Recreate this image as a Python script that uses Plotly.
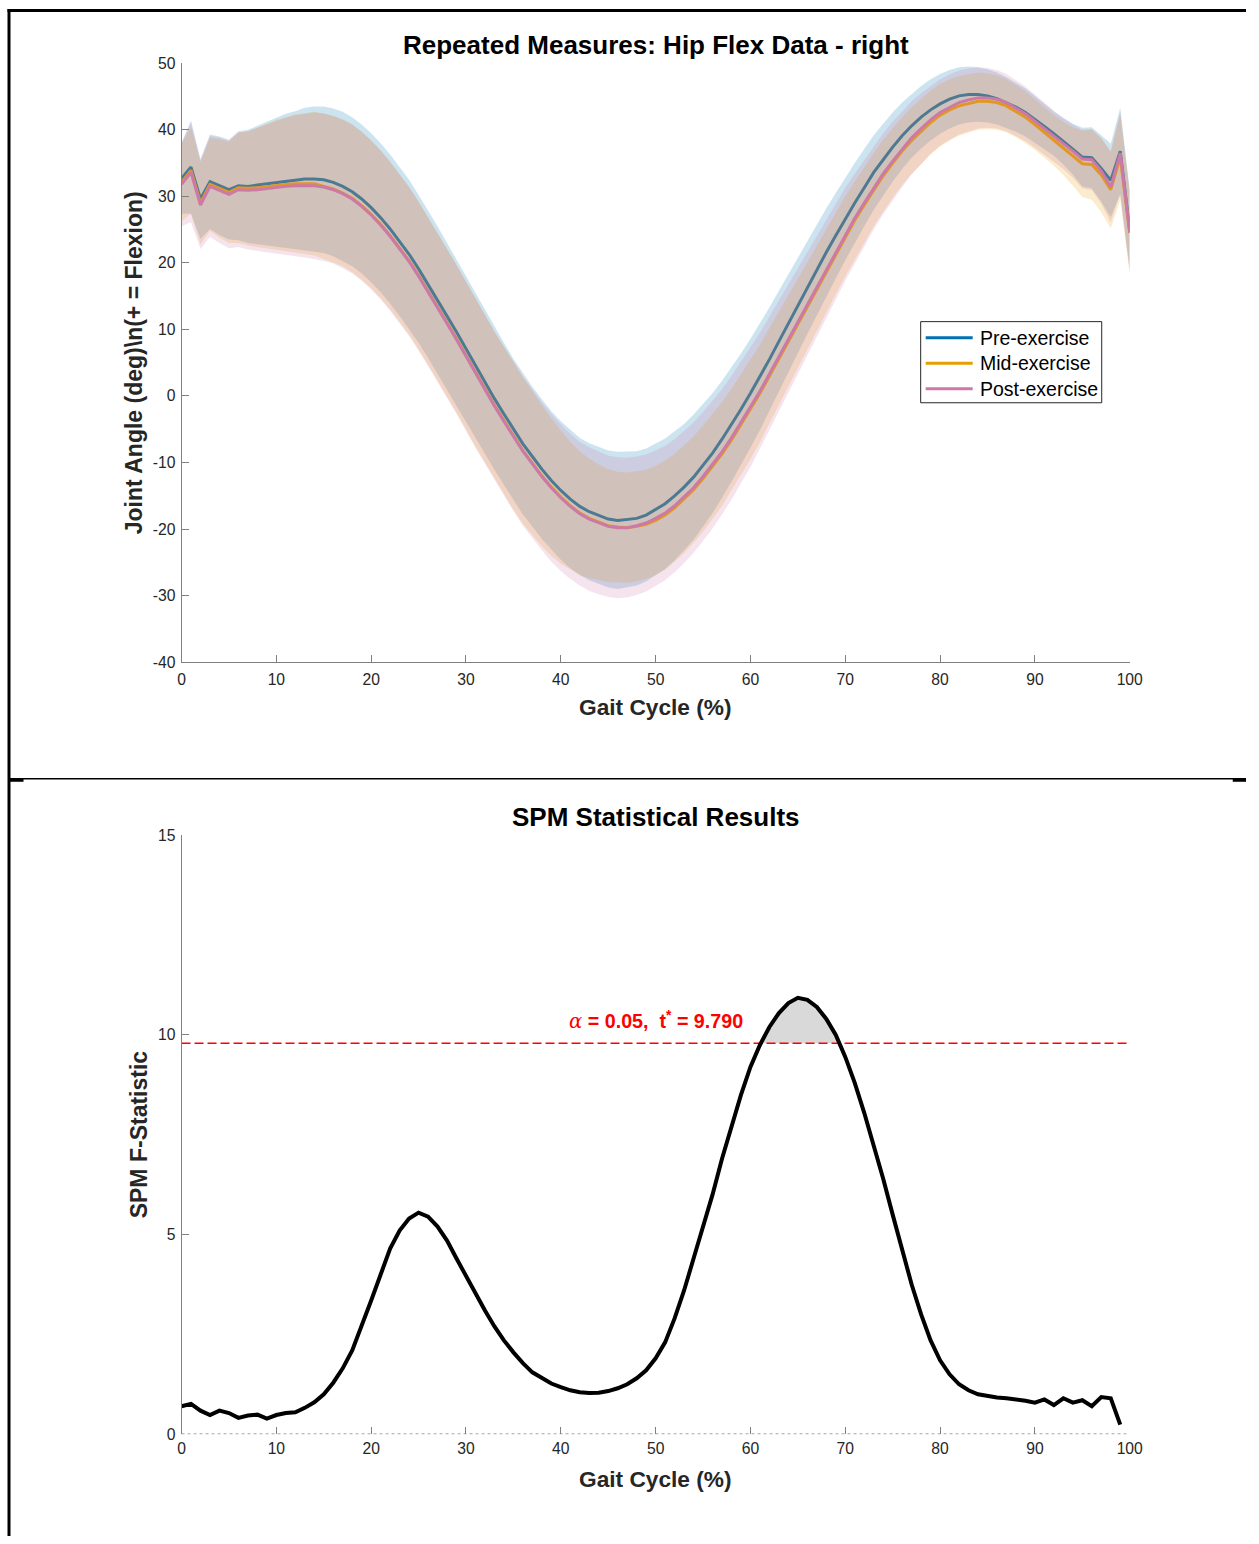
import plotly.graph_objects as go

# ---------------------------------------------------------------- data
gait = list(range(0, 101))          # % gait cycle, 101 nodes

conditions = ["Pre-exercise", "Mid-exercise", "Post-exercise"]
colors = ["#0072B2", "#E69F00", "#CC79A7"]
band_rgb = ["0,114,178", "230,159,0", "204,121,167"]

pre_mean = [32.7, 34.4, 29.6, 32.2, 31.6, 31.0, 31.6, 31.5, 31.7, 31.9, 32.1, 32.3, 32.4, 32.6, 32.6,
            32.5, 32.1, 31.5, 30.7, 29.6, 28.3, 26.8, 25.1, 23.2, 21.3, 19.1, 16.8, 14.5, 12.0, 9.6, 7.1,
            4.5, 2.1, -0.4, -2.7, -5.0, -7.2, -9.1, -11.0, -12.7, -14.2, -15.5, -16.6, -17.4, -18.0, -18.5, -18.7,
            -18.6, -18.4, -17.9, -17.1, -16.2, -15.0, -13.7, -12.2, -10.4, -8.6, -6.5, -4.3, -2.0, 0.4, 2.9,
            5.5, 8.2, 10.9, 13.6, 16.3, 18.9, 21.6, 24.1, 26.6, 29.0, 31.3, 33.6, 35.5, 37.4, 39.1, 40.6,
            41.9, 43.0, 43.9, 44.6, 45.1, 45.3,
            45.3, 45.1, 44.7, 44.1, 43.4, 42.6, 41.6, 40.5, 39.4, 38.3, 37.1, 35.9, 35.8, 34.2, 32.4, 36.8, 25.0]

mid_mean = [32.1, 33.9, 29.0, 31.8, 31.2, 30.6, 31.3, 31.2, 31.3, 31.5, 31.7, 31.8, 31.9, 31.9, 31.9,
            31.5, 31.1, 30.5, 29.7, 28.6, 27.3, 25.8, 24.1, 22.2, 20.3, 18.1, 15.8, 13.5, 11.0, 8.6, 6.1,
            3.5, 1.1, -1.4, -3.7, -6.0, -8.2, -10.1, -12.0, -13.7, -15.2, -16.5, -17.6, -18.4, -19.0, -19.5, -19.7,
            -19.8, -19.6, -19.3, -18.7, -17.9, -16.8, -15.5, -14.1, -12.4, -10.6, -8.7, -6.6, -4.3, -2.0, 0.4,
            3.0, 5.6, 8.2, 10.9, 13.5, 16.2, 18.8, 21.4, 24.0, 26.4, 28.7, 31.0, 33.1, 35.0, 36.8, 38.4,
            39.8, 41.1, 42.2, 43.0, 43.6, 44.0, 44.3,
            44.3, 44.1, 43.6, 42.8, 41.9, 40.8, 39.6, 38.4, 37.2, 36.0, 34.9, 34.8, 33.2, 31.0, 35.9, 24.5]

post_mean = [31.8, 33.6, 28.7, 31.5, 30.9, 30.3, 31.0, 30.9, 31.0, 31.2, 31.4, 31.5, 31.6, 31.6, 31.6,
             31.4, 31.0, 30.4, 29.6, 28.5, 27.2, 25.7, 24.0, 22.1, 20.2, 18.0, 15.7, 13.4, 10.9, 8.5, 6.0,
             3.4, 1.0, -1.5, -3.8, -6.1, -8.3, -10.2, -12.1, -13.8, -15.3, -16.6, -17.7, -18.5, -19.1, -19.6, -19.8,
             -19.8, -19.5, -19.1, -18.4, -17.6, -16.5, -15.2, -13.8, -12.1, -10.3, -8.4, -6.3, -4.0, -1.7, 0.7,
             3.3, 5.9, 8.5, 11.2, 13.8, 16.5, 19.1, 21.7, 24.3, 26.7, 29.0, 31.3, 33.4, 35.3, 37.1, 38.8,
             40.2, 41.5, 42.6, 43.4, 44.1, 44.5, 44.8,
             44.8, 44.6, 44.1, 43.3, 42.4, 41.3, 40.2, 39.0, 37.9, 36.8, 35.6, 35.5, 33.8, 31.4, 36.5, 24.6]

pre_sd = [5.3, 7.0, 6.0, 7.1, 7.4, 7.5, 8.2, 8.5, 8.9, 9.3, 9.7, 10.1, 10.4, 10.7, 10.9,
          11.0, 11.1, 11.2, 11.2, 11.2, 11.2, 11.2, 11.2, 11.2, 11.2, 11.1, 11.1, 11.0, 11.0, 10.9, 10.9,
          10.8, 10.8, 10.7, 10.7, 10.6, 10.6, 10.5, 10.5, 10.4, 10.4, 10.4, 10.3, 10.3, 10.3, 10.3, 10.3,
          10.2, 10.1, 10.0, 9.9, 9.8, 9.7, 9.5, 9.4, 9.2, 9.0, 8.8, 8.6, 8.4, 8.2, 8.0, 7.8, 7.6, 7.4,
          7.2, 7.0, 6.8, 6.6, 6.4, 6.2, 6.0, 5.8, 5.6, 5.4, 5.2, 5.0, 4.8, 4.7, 4.6, 4.5, 4.4, 4.3, 4.2,
          4.1, 4.0, 3.9, 3.8, 3.7, 3.6, 3.5, 3.4, 3.3, 3.5, 3.8, 4.4, 4.6, 5.0, 5.5, 6.5, 6.0]

mid_sd = [5.8, 6.5, 6.2, 7.0, 7.4, 7.6, 8.3, 8.6, 9.0, 9.4, 9.8, 10.1, 10.4, 10.6, 10.8,
          10.9, 11.0, 11.0, 11.1, 11.1, 11.1, 11.1, 11.1, 11.1, 11.1, 11.1, 11.1, 11.1, 11.1, 11.1, 11.1,
          11.1, 11.1, 11.1, 11.1, 11.1, 11.0, 10.8, 10.6, 10.3, 10.0, 9.6, 9.3, 9.0, 8.7, 8.5, 8.3,
          8.3, 8.3, 8.2, 8.2, 8.2, 8.1, 8.1, 8.0, 8.0, 7.9, 7.8, 7.7, 7.6, 7.5, 7.3, 7.2, 7.0, 6.9,
          6.7, 6.6, 6.4, 6.3, 6.1, 6.0, 5.8, 5.7, 5.5, 5.4, 5.2, 5.1, 5.0, 4.9, 4.8, 4.7, 4.6, 4.5, 4.4,
          4.3, 4.2, 4.1, 4.0, 3.9, 3.9, 3.8, 3.8, 3.8, 4.0, 4.4, 5.0, 5.3, 5.6, 5.8, 6.5, 6.2]

post_sd = [6.3, 7.5, 6.6, 7.6, 7.9, 8.1, 8.6, 8.9, 9.3, 9.6, 10.0, 10.3, 10.6, 10.8, 11.0,
           11.1, 11.1, 11.2, 11.2, 11.2, 11.2, 11.2, 11.2, 11.2, 11.2, 11.2, 11.2, 11.2, 11.2, 11.2, 11.2,
           11.2, 11.2, 11.2, 11.2, 11.2, 11.2, 11.2, 11.1, 11.1, 11.0, 10.9, 10.8, 10.8, 10.7, 10.6, 10.6,
           10.5, 10.4, 10.3, 10.2, 10.1, 10.0, 9.9, 9.8, 9.7, 9.6, 9.4, 9.3, 9.1, 9.0, 8.8, 8.6, 8.4, 8.2,
           8.0, 7.8, 7.6, 7.4, 7.2, 7.0, 6.7, 6.5, 6.3, 6.1, 5.9, 5.7, 5.5, 5.3, 5.1, 5.0, 4.9, 4.8, 4.7,
           4.6, 4.5, 4.4, 4.3, 4.2, 4.1, 4.0, 3.9, 3.8, 3.8, 4.0, 4.4, 4.6, 4.9, 5.3, 6.2, 6.0]

# SPM{F} over nodes 0..99
spm_nodes = list(range(0, 100))
spm_f = [0.70, 0.76, 0.59, 0.48, 0.59, 0.53, 0.41, 0.47, 0.49, 0.39, 0.48, 0.53, 0.55, 0.66, 0.80, 1.00, 1.29,
         1.65, 2.10, 2.70, 3.35, 4.00, 4.65, 5.10, 5.40, 5.55, 5.45, 5.20, 4.85, 4.40, 3.95, 3.50, 3.10,
         2.70, 2.35, 2.05, 1.78, 1.55, 1.40, 1.27, 1.18, 1.10, 1.05, 1.03, 1.04,
         1.08, 1.15, 1.25, 1.40, 1.60, 1.90, 2.30, 2.90, 3.60, 4.40, 5.20, 6.00, 6.90, 7.70, 8.50, 9.20,
         9.75, 10.20, 10.55, 10.80, 10.93, 10.88, 10.70, 10.40, 10.00, 9.45,
         8.80, 8.05, 7.25, 6.40, 5.50, 4.60, 3.75, 3.00, 2.35, 1.85, 1.50, 1.25, 1.10, 1.00,
         0.95, 0.92, 0.90, 0.88, 0.84, 0.79, 0.87, 0.73, 0.90, 0.79, 0.85, 0.70, 0.93, 0.90, 0.24]
alpha = 0.05
f_crit = 9.790

x_ticks = list(range(0, 101, 10))
y_ticks_top = list(range(-40, 51, 10))
y_ticks_bot = [0, 5, 10, 15]

means = [pre_mean, mid_mean, post_mean]
sds = [pre_sd, mid_sd, post_sd]
for arr in means + sds:
    assert len(arr) == len(gait)
assert len(spm_f) == len(spm_nodes)

# ---------------------------------------------------------------- page geometry
# Layout positions are given in screen pixels of the final picture; the page
# is shown slightly shifted and scaled, so they are mapped back to figure pixels.
W, H = 1259, 1544
OFF_X, OFF_Y = 3.5, 9.8
SC_X, SC_Y = 0.9863, 0.9876
FS = 1.0 / SC_X
FONT = "Liberation Sans, Arial, Helvetica, sans-serif"
AX_GREY = "#808080"
TXT = "#262626"


def px(x):
    return ((x - OFF_X) / SC_X) / W


def py(y):
    return 1 - ((y - OFF_Y) / SC_Y) / H


fig = go.Figure()

# mean +/- SD bands with their mean curves (band, then line, per condition)
for name, col, rgb, m, s in zip(conditions, colors, band_rgb, means, sds):
    upper = [a + b for a, b in zip(m, s)]
    lower = [a - b for a, b in zip(m, s)]
    fig.add_trace(go.Scatter(
        x=gait + gait[::-1], y=upper + lower[::-1], fill="toself",
        fillcolor=f"rgba({rgb},0.2)", line=dict(width=0), mode="lines",
        hoverinfo="skip", showlegend=False, xaxis="x", yaxis="y"))
    fig.add_trace(go.Scatter(
        x=gait, y=m, mode="lines", name=name, line=dict(color=col, width=3),
        showlegend=False, xaxis="x", yaxis="y"))

# suprathreshold cluster (filled grey)
cx, cy = [], []
for i in range(len(spm_f) - 1):
    a, b = spm_f[i], spm_f[i + 1]
    if a >= f_crit:
        cx.append(spm_nodes[i]); cy.append(a)
    if (a - f_crit) * (b - f_crit) < 0:
        t = (f_crit - a) / (b - a)
        cx.append(spm_nodes[i] + t * (spm_nodes[i + 1] - spm_nodes[i])); cy.append(f_crit)
fig.add_trace(go.Scatter(x=cx, y=cy, fill="toself", fillcolor="#d9d9d9", mode="lines",
                         line=dict(width=0), hoverinfo="skip", showlegend=False,
                         xaxis="x2", yaxis="y2"))

# critical threshold
fig.add_trace(go.Scatter(x=[0, 100], y=[f_crit, f_crit], mode="lines",
                         line=dict(color="#ff0000", width=1.5, dash="9px,4px"),
                         showlegend=False, xaxis="x2", yaxis="y2"))

# SPM{F} curve
fig.add_trace(go.Scatter(x=spm_nodes, y=spm_f, mode="lines",
                         line=dict(color="black", width=4), showlegend=False,
                         xaxis="x2", yaxis="y2"))

axis_common = dict(
    showgrid=False, zeroline=False, ticks="inside", ticklen=7, tickwidth=1,
    tickcolor=AX_GREY, showline=True, linecolor=AX_GREY, linewidth=1,
    tickfont=dict(family=FONT, size=15.7, color=TXT), mirror=False,
)
x_dom = [px(181), px(1129)]


def tick_text(vals):
    return [str(v) for v in vals]


fig.update_layout(
    width=W, height=H, margin=dict(l=0, r=0, t=0, b=0),
    paper_bgcolor="white", plot_bgcolor="white", showlegend=False,
    font=dict(family=FONT, color=TXT),
    xaxis=dict(axis_common, domain=x_dom, range=[0, 100], tickvals=x_ticks,
               ticktext=tick_text(x_ticks), ticklabelstandoff=3, anchor="y"),
    yaxis=dict(axis_common, domain=[py(662), py(64)], range=[-40, 50], tickvals=y_ticks_top,
               ticktext=tick_text(y_ticks_top), ticklabelstandoff=2, anchor="x"),
    xaxis2=dict(axis_common, domain=x_dom, range=[0, 100], tickvals=x_ticks,
                ticktext=tick_text(x_ticks), ticklabelstandoff=3, anchor="y2", showline=False),
    yaxis2=dict(axis_common, domain=[py(1433), py(835)], range=[0, 15], tickvals=y_ticks_bot,
                ticktext=tick_text(y_ticks_bot), ticklabelstandoff=2, anchor="x2"),
)

shapes = []
# outer frame and the divider between the two panels
shapes.append(dict(type="line", xref="paper", yref="paper", x0=px(7), x1=1, y0=1 - 1.5 / H, y1=1 - 1.5 / H,
                   line=dict(color="black", width=3)))
shapes.append(dict(type="line", xref="paper", yref="paper", x0=px(8.5), x1=px(8.5), y0=1, y1=0,
                   line=dict(color="black", width=3)))
shapes.append(dict(type="line", xref="paper", yref="paper", x0=px(8), x1=1, y0=py(778.5), y1=py(778.5),
                   line=dict(color="black", width=1.5)))
shapes.append(dict(type="line", xref="paper", yref="paper", x0=px(8), x1=px(23), y0=py(780), y1=py(780),
                   line=dict(color="black", width=3)))
shapes.append(dict(type="line", xref="paper", yref="paper", x0=px(1232), x1=1, y0=py(780), y1=py(780),
                   line=dict(color="black", width=3)))
# dotted baseline of the SPM panel
shapes.append(dict(type="line", xref="x2", yref="y2", x0=0, x1=100, y0=0, y1=0,
                   line=dict(color=AX_GREY, width=1.2, dash="dot")))

# legend box
lg_x0, lg_x1, lg_y0, lg_y1 = 920, 1101, 322, 403
shapes.append(dict(type="rect", xref="paper", yref="paper", x0=px(lg_x0), x1=px(lg_x1),
                   y0=py(lg_y1), y1=py(lg_y0), line=dict(color="#262626", width=1),
                   fillcolor="white"))
annotations = []
for k, (name, col) in enumerate(zip(conditions, colors)):
    yy = 338 + k * 25.5
    shapes.append(dict(type="line", xref="paper", yref="paper", x0=px(925), x1=px(972),
                       y0=py(yy), y1=py(yy), line=dict(color=col, width=3)))
    annotations.append(dict(xref="paper", yref="paper", x=px(977), y=py(yy), text=name,
                            showarrow=False, xanchor="left", yanchor="middle",
                            font=dict(family=FONT, size=19.5, color="black")))


def label(text, x, y, size, angle=0, color="black"):
    annotations.append(dict(xref="paper", yref="paper", x=px(x), y=py(y), text=text,
                            showarrow=False, xanchor="center", yanchor="middle",
                            textangle=angle, font=dict(family=FONT, size=size, color=color)))


label("<b>Repeated Measures: Hip Flex Data - right</b>", 655, 46, 26)
label("<b>Gait Cycle (%)</b>", 655, 707, 22.7, color=TXT)
label("<b>Joint Angle (deg)\\n(+ = Flexion)</b>", 133, 363, 23, angle=-90, color=TXT)
label("<b>SPM Statistical Results</b>", 655, 817, 26)
label("<b>Gait Cycle (%)</b>", 655, 1478, 22.7, color=TXT)
label("<b>SPM F-Statistic</b>", 138, 1134, 23, angle=-90, color=TXT)

annotations.append(dict(
    xref="x2", yref="y2", x=50, y=f_crit, yshift=23, showarrow=False,
    xanchor="center", yanchor="middle",
    text=f"<span style='font-family:DejaVu Serif'><i>α</i></span><b> = {alpha:.2f},  t<sup>*</sup> = {f_crit:.3f}</b>",
    font=dict(family=FONT, size=19.7, color="#ff0000")))

fig.update_layout(shapes=shapes, annotations=annotations)
fig.write_html("out.html", config={"displayModeBar": False})
